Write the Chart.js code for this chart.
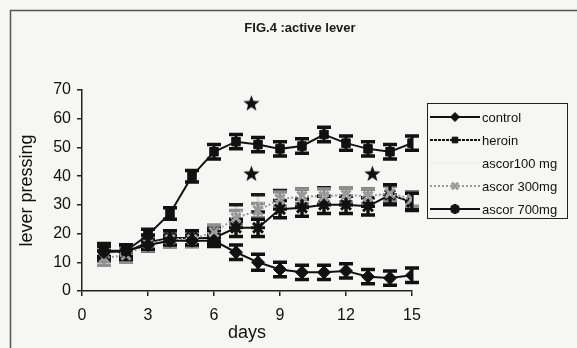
<!DOCTYPE html>
<html>
<head>
<meta charset="utf-8">
<script src="https://cdn.jsdelivr.net/npm/chart.js@4.4.1/dist/chart.umd.min.js"></script>
<style>
  html, body { margin: 0; padding: 0; background: #f4f4f2; }
  #wrap { width: 577px; height: 348px; position: relative; }
  canvas { display: block; }
</style>
</head>
<body>
<div id="wrap"><canvas id="c" width="577" height="348"></canvas></div>
<script>
// ---- data ----
const days = [1, 2, 3, 4, 5, 6, 7, 8, 9, 10, 11, 12, 13, 14, 15];
const control   = [13.5, 14, 16, 17.5, 17.5, 17.5, 13.5, 10, 7.5, 6.5, 6.5, 7, 5, 4.5, 5.5];
const heroin    = [14, 14, 19.5, 27, 40, 48.5, 52, 51, 49.5, 50.5, 54.5, 51.5, 49.5, 48.5, 51.5];
const ascor100  = [13, 13.5, 16.5, 18, 18.5, 19.5, 27, 30.5, 32, 32.5, 33, 33, 32.5, 33.5, 31.5];
const ascor300  = [11.5, 12.5, 16.5, 18, 18, 20.5, 25.5, 28, 32, 33, 33, 33.5, 33, 34, 32];
const ascor700  = [14, 13.5, 17, 18.5, 18.5, 18.5, 22, 22, 28.5, 29, 30, 30, 29.5, 33.5, 31];
const errControl  = [2, 2, 2, 2, 2, 2, 2.5, 2.8, 2.5, 2.5, 2.5, 2.5, 2.5, 2.5, 2.5];
const errHeroin   = [2, 2, 2, 2, 2, 2.5, 2.5, 2.5, 2.5, 2.5, 2.5, 2.5, 2.5, 2.5, 2.5];
const err100      = [2.5, 2.5, 2.5, 2.5, 2.5, 2.5, 3, 3, 3, 3, 3, 3, 3, 3, 3];
const err300      = [2.5, 2.5, 2.5, 2.5, 2.5, 2.5, 2.5, 2.5, 2.5, 2.5, 2.5, 2.5, 2.5, 2.5, 2.5];
const err700      = [2.5, 2.5, 2.5, 2.5, 2.5, 2.5, 3, 3, 3, 3, 3, 3, 3, 3.5, 3];
const starX = [7.7, 7.7, 13.2];
const starY = [65.5, 41, 41];
const labels = ['control', 'heroin', 'ascor100 mg', 'ascor 300mg', 'ascor 700mg'];
const titleText = 'FIG.4 :active lever';
const xTicks = [0, 3, 6, 9, 12, 15];
const yTicks = [0, 10, 20, 30, 40, 50, 60, 70];

const FONT = 'Arial, "Liberation Sans", sans-serif';

function pts(vals) { return days.map((d, i) => ({ x: d, y: vals[i] })); }

// filled five-point star image for significance marks
function makeStar(size) {
  const cv = document.createElement('canvas');
  cv.width = size; cv.height = size;
  const g = cv.getContext('2d');
  const cx = size / 2, cy = size / 2 + 0.8, R = size / 2, r = R * 0.42;
  g.beginPath();
  for (let i = 0; i < 10; i++) {
    const rad = (i % 2 === 0) ? R : r;
    const a = -Math.PI / 2 + i * Math.PI / 5;
    const px = cx + rad * Math.cos(a), py = cy + rad * Math.sin(a);
    if (i === 0) g.moveTo(px, py); else g.lineTo(px, py);
  }
  g.closePath();
  g.fillStyle = '#111';
  g.fill();
  return cv;
}
const starImg = makeStar(17);

const datasets = [
  { label: labels[0], data: pts(control), err: errControl, errColor: '#111', capColor: '#111',
    borderColor: '#111', borderWidth: 2, pointStyle: 'rectRot', pointRadius: 6.5,
    pointBackgroundColor: '#111', pointBorderColor: '#111', pointBorderWidth: 1 },
  { label: labels[1], data: pts(heroin), err: errHeroin, errColor: '#111', capColor: '#111',
    borderColor: '#151515', borderWidth: 2, pointStyle: 'rect', pointRadius: 6,
    pointBackgroundColor: '#111', pointBorderColor: '#111', pointBorderWidth: 1 },
  { label: labels[2], data: pts(ascor100), err: err100, errColor: '#dedede', capColor: '#1a1a1a',
    borderColor: '#dcdcdc', borderWidth: 1.5, borderDash: [1, 3], pointStyle: 'circle', pointRadius: 0,
    pointBackgroundColor: '#e2e2e2', pointBorderColor: '#e2e2e2' },
  { label: labels[3], data: pts(ascor300), err: err300, errColor: '#8f8f8f', capColor: '#8f8f8f',
    borderColor: '#9a9a9a', borderWidth: 2, borderDash: [2, 2], pointStyle: 'crossRot', pointRadius: 6.5,
    pointBackgroundColor: '#9a9a9a', pointBorderColor: '#9a9a9a', pointBorderWidth: 3 },
  { label: labels[4], data: pts(ascor700), err: err700, errColor: '#111', capColor: '#111',
    borderColor: '#111', borderWidth: 2, pointStyle: 'star', pointRadius: 7,
    pointBackgroundColor: '#111', pointBorderColor: '#111', pointBorderWidth: 3 },
  { label: 'sig', data: starX.map((x, i) => ({ x: x, y: starY[i] })), showLine: false,
    pointStyle: starImg, pointRadius: 8, borderColor: '#111', backgroundColor: '#111', noLegend: true }
];

// error bars drawn through the chart's scales
const errorBars = {
  id: 'errorBars',
  beforeDatasetsDraw(chart) {
    const ctx = chart.ctx, xs = chart.scales.x, ys = chart.scales.y;
    chart.data.datasets.forEach(ds => {
      if (!ds.err) return;
      ds.data.forEach((p, i) => {
        const e = ds.err[i];
        const px = xs.getPixelForValue(p.x);
        const yt = ys.getPixelForValue(p.y + e), yb = ys.getPixelForValue(p.y - e);
        ctx.save();
        ctx.strokeStyle = ds.errColor; ctx.lineWidth = 3;
        ctx.beginPath(); ctx.moveTo(px, yt); ctx.lineTo(px, yb); ctx.stroke();
        ctx.strokeStyle = ds.capColor; ctx.lineWidth = 3.5;
        ctx.beginPath();
        ctx.moveTo(px - 7, yt); ctx.lineTo(px + 7, yt);
        ctx.moveTo(px - 7, yb); ctx.lineTo(px + 7, yb);
        ctx.stroke();
        ctx.restore();
      });
    });
  }
};

// page frame, title and boxed legend with line-and-marker samples
const frameLegend = {
  id: 'frameLegend',
  beforeDraw(chart) {
    const ctx = chart.ctx;
    ctx.save();
    ctx.fillStyle = '#f6f6f4';
    ctx.fillRect(0, 0, chart.width, chart.height);
    ctx.strokeStyle = '#555'; ctx.lineWidth = 1.5;
    ctx.beginPath();
    ctx.moveTo(10.5, chart.height); ctx.lineTo(10.5, 10.5); ctx.lineTo(chart.width, 10.5);
    ctx.stroke();
    ctx.fillStyle = '#1a1a1a';
    ctx.font = 'bold 13px ' + FONT;
    ctx.textAlign = 'center'; ctx.textBaseline = 'middle';
    ctx.fillText(titleText, 300, 28);
    ctx.restore();
  },
  afterDraw(chart) {
    const ctx = chart.ctx;
    const bx = 427, by = 103, bw = 140, bh = 115;
    ctx.save();
    ctx.strokeStyle = '#222'; ctx.lineWidth = 1;
    ctx.strokeRect(bx + 0.5, by + 0.5, bw, bh);
    const items = chart.data.datasets.filter(d => !d.noLegend);
    items.forEach((ds, i) => {
      const y = by + 14 + i * 23;
      ctx.save();
      ctx.strokeStyle = ds.borderColor; ctx.lineWidth = ds.borderWidth;
      ctx.setLineDash(i === 1 ? [3, 1] : (ds.borderDash || []));
      ctx.beginPath(); ctx.moveTo(bx + 3, y); ctx.lineTo(bx + 53, y); ctx.stroke();
      ctx.restore();
      if (ds.pointRadius > 0) {
        ctx.save();
        ctx.fillStyle = ds.pointBackgroundColor; ctx.strokeStyle = ds.pointBorderColor;
        ctx.lineWidth = ds.pointBorderWidth || 1;
        Chart.helpers.drawPoint(ctx, { pointStyle: ds.pointStyle, radius: ds.pointRadius - 2, borderWidth: ds.pointBorderWidth || 1, rotation: 0 }, bx + 28, y);
        ctx.restore();
      }
      ctx.fillStyle = '#111';
      ctx.font = '13px ' + FONT;
      ctx.textBaseline = 'middle'; ctx.textAlign = 'left';
      ctx.fillText(ds.label, bx + 55, y + 1);
    });
    ctx.restore();
  }
};

new Chart(document.getElementById('c'), {
  type: 'line',
  data: { datasets: datasets },
  plugins: [frameLegend, errorBars],
  options: {
    responsive: false,
    animation: false,
    devicePixelRatio: 1,
    layout: { padding: { top: 90, left: 0, right: 165, bottom: 0 } },
    elements: { line: { tension: 0 } },
    plugins: {
      legend: { display: false },
      tooltip: { enabled: false },
      title: { display: false }
    },
    scales: {
      x: {
        type: 'linear', min: 0, max: 15,
        afterFit(s) { s.height = 57; },
        afterBuildTicks(s) { s.ticks = xTicks.map(v => ({ value: v })); },
        grid: { drawOnChartArea: false, drawTicks: true, tickLength: 5, color: '#222', lineWidth: 1.5 },
        border: { display: true, color: '#222', width: 1.5 },
        ticks: { color: '#111', font: { family: FONT, size: 16 }, padding: 10, maxRotation: 0 },
        title: { display: true, text: 'days', color: '#111', font: { family: FONT, size: 18 }, padding: { top: 0, bottom: 4 } }
      },
      y: {
        min: 0, max: 70,
        afterFit(s) { s.width = 82; },
        afterBuildTicks(s) { s.ticks = yTicks.map(v => ({ value: v })); },
        grid: { drawOnChartArea: false, drawTicks: true, tickLength: 5, color: '#222', lineWidth: 1.5 },
        border: { display: true, color: '#222', width: 1.5 },
        ticks: { color: '#111', font: { family: FONT, size: 16 }, padding: 6 },
        title: { display: true, text: 'lever pressing', color: '#111', font: { family: FONT, size: 18 }, padding: { top: 16, bottom: 0 } }
      }
    }
  }
});
</script>
</body>
</html>
